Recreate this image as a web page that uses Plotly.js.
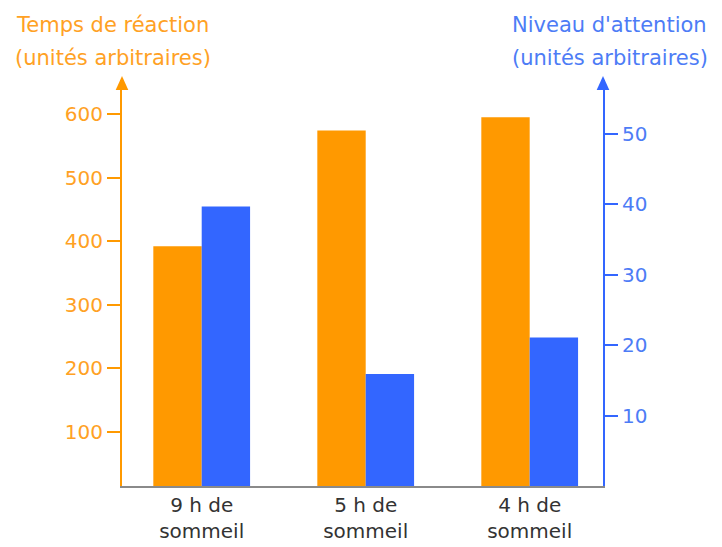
<!DOCTYPE html>
<html>
<head>
<meta charset="utf-8">
<script src="https://cdn.plot.ly/plotly-3.0.1.min.js"></script>
<style>html,body{margin:0;padding:0;background:#fff;}#chart{width:722px;height:547px;}</style>
</head>
<body>
<div id="chart"></div>
<script>
const categories = ["9 h de<br>sommeil", "5 h de<br>sommeil", "4 h de<br>sommeil"];
const reactionTime = [392, 574, 595];
const attentionLevel = [39.7, 15.9, 21.1];
const leftTicks = [100, 200, 300, 400, 500, 600];
const rightTicks = [10, 20, 30, 40, 50];

const ORANGE = "#FF9900";
const ORANGE_TXT = "#FFA124";
const BLUE = "#3366FF";
const BLUE_TXT = "#4D7CF6";
const FONT = "DejaVu Sans, Verdana, sans-serif";

const traces = [
  {type: "bar", x: categories, y: reactionTime, yaxis: "y", offsetgroup: "a",
   marker: {color: ORANGE}, hoverinfo: "skip"},
  {type: "bar", x: categories, y: attentionLevel, yaxis: "y2", offsetgroup: "b",
   marker: {color: BLUE}, hoverinfo: "skip"}
];

// plot area: x 122..603 px, y 80..486 px
const W = 481, H = 406;
const px = v => (v - 122) / W;
const py = v => (486 - v) / H;

function arrow(xp) {
  const x = px(xp), tip = py(76), base = py(90), hw = 6.3 / W;
  return {type: "path", xref: "paper", yref: "paper",
    path: `M ${x - hw} ${base} L ${x} ${tip} L ${x + hw} ${base} Z`,
    fillcolor: xp < 300 ? ORANGE : BLUE, line: {width: 0}};
}

const layout = {
  width: 722, height: 547,
  margin: {l: 122, r: 119, t: 80, b: 61},
  paper_bgcolor: "#fff", plot_bgcolor: "#fff",
  showlegend: false,
  barmode: "group", bargap: 0.41, bargroupgap: 0,
  font: {family: FONT, size: 20, color: "#333"},
  xaxis: {
    type: "category", range: [-0.486, 2.447],
    showline: true, linecolor: "#8a8a8a", linewidth: 2,
    ticks: "", showgrid: false, zeroline: false,
    tickfont: {family: FONT, size: 20, color: "#333"}
  },
  yaxis: {
    range: [15, 653.5], tickvals: leftTicks, ticktext: leftTicks.map(String),
    showline: true, linecolor: ORANGE, linewidth: 2,
    ticks: "outside", ticklen: 13, tickwidth: 2, tickcolor: ORANGE,
    showgrid: false, zeroline: false,
    tickfont: {family: FONT, size: 20, color: ORANGE_TXT}
  },
  yaxis2: {
    overlaying: "y", side: "right",
    range: [0, 57.66], tickvals: rightTicks, ticktext: rightTicks.map(String),
    showline: true, linecolor: BLUE, linewidth: 2,
    ticks: "outside", ticklen: 13, tickwidth: 2, tickcolor: BLUE,
    showgrid: false, zeroline: false,
    tickfont: {family: FONT, size: 20, color: BLUE_TXT}
  },
  shapes: [arrow(122), arrow(603)],
  annotations: [
    {text: "Temps de réaction", xref: "paper", yref: "paper", x: px(112.7), y: py(25),
     xanchor: "center", yanchor: "middle", showarrow: false,
     font: {family: FONT, size: 21, color: ORANGE_TXT}},
    {text: "(unités arbitraires)", xref: "paper", yref: "paper", x: px(113), y: py(58),
     xanchor: "center", yanchor: "middle", showarrow: false,
     font: {family: FONT, size: 21, color: ORANGE_TXT}},
    {text: "Niveau d'attention", xref: "paper", yref: "paper", x: px(609.5), y: py(25),
     xanchor: "center", yanchor: "middle", showarrow: false,
     font: {family: FONT, size: 21, color: BLUE_TXT}},
    {text: "(unités arbitraires)", xref: "paper", yref: "paper", x: px(610), y: py(58),
     xanchor: "center", yanchor: "middle", showarrow: false,
     font: {family: FONT, size: 21, color: BLUE_TXT}}
  ]
};

Plotly.newPlot("chart", traces, layout, {staticPlot: true, displayModeBar: false});
</script>
</body>
</html>
